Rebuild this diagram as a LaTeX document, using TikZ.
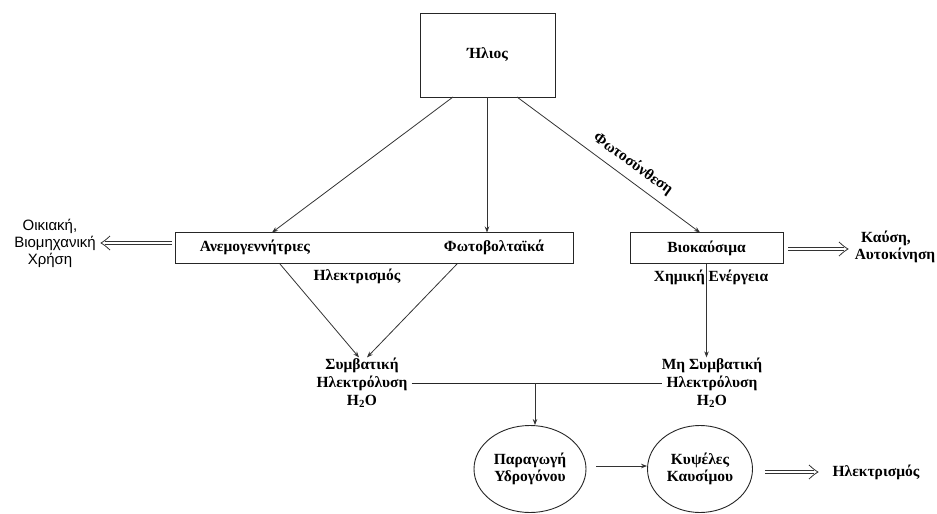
\documentclass[tikz,border=0pt]{standalone}
\usepackage{fontspec}
\setmainfont{Liberation Serif}
\newfontfamily\lsans{Liberation Sans}
\usetikzlibrary{shapes.geometric,arrows.meta,calc}
\begin{document}
\begin{tikzpicture}[x=1pt,y=-1pt,
  every node/.style={font=\bfseries\fontsize{15.5}{17}\selectfont, inner sep=0pt},
  boxnode/.style={draw=black!85, line width=0.9pt, rectangle},
  ell/.style={draw=black!85, ellipse, line width=0.9pt, align=center},
  arr/.style={draw=black!80, line width=0.8pt, -{Stealth[length=6pt,width=4.5pt]}},
  conn/.style={draw=black!85, line width=0.8pt},
  dshaft/.style={draw=black!80, line width=4.4pt, postaction={draw=white, line width=2.6pt}},
  sanslbl/.style={font=\lsans\fontsize{15}{17}\selectfont},
  dhead/.pic={\draw[black!80, line width=0.8pt] (-9,-7) .. controls (-4,-2.5) .. (0,0) .. controls (-4,2.5) .. (-9,7);},
]
\useasboundingbox (0,0) rectangle (937,514);
% boxes
\node[boxnode, minimum width=135pt, minimum height=84pt] (helios) at (487.5,55) {Ήλιος};
\node[boxnode, minimum width=398pt, minimum height=31pt] (bigbox) at (374,248) {};
\node (anemo) at (255,247) {Ανεμογεννήτριες};
\node (foto) at (494,247) {Φωτοβολταϊκά};
\node[boxnode, minimum width=153pt, minimum height=31pt] (bio) at (706.5,248) {Βιοκαύσιμα};
% labels
\node (ilek) at (357,276) {Ηλεκτρισμός};
\node (chem) at (711,277) {Χημική Ενέργεια};
\node (s1) at (362,365) {Συμβατική};
\node (s2) at (362,383) {Ηλεκτρόλυση};
\node (s3) at (362,401) {H\textsubscript{2}O};
\node (m1) at (712,365) {Μη Συμβατική};
\node (m2) at (712,383) {Ηλεκτρόλυση};
\node (m3) at (712,401) {H\textsubscript{2}O};
\node[sanslbl] (o1) at (50,226) {Οικιακή,};
\node[sanslbl] (o2) at (55,243) {Βιομηχανική};
\node[sanslbl] (o3) at (50,260) {Χρήση};
\node (k1) at (886,238) {Καύση,};
\node (k2) at (895,255) {Αυτοκίνηση};
% ellipses
\node[ell, minimum width=112pt, minimum height=87pt] (par) at (530,469) {Παραγωγή\\Υδρογόνου};
\node[ell, minimum width=105pt, minimum height=87pt] (kyp) at (700,469) {Κυψέλες\\Καυσίμου};
\node (ilek2) at (876,472) {Ηλεκτρισμός};
% helper coordinates
\coordinate (hl) at (453,97);
\coordinate (hm) at (487,97);
\coordinate (hr) at (517,97);
\coordinate (bl) at (280,264);
\coordinate (br) at (457,264);
\coordinate (j) at (535,383);
\coordinate (lt) at (172,243);
\coordinate (lh) at (101,243);
\coordinate (rt) at (788,249);
\coordinate (rh) at (848,249);
\coordinate (kt) at (765,472);
\coordinate (kh) at (818,472);
% connectors
\draw[arr] (hl) -- (272,232.5);
\draw[arr] (hm) -- (487,232.5);
\draw[arr] (hr) -- (700,232.5);
\node[rotate=-36] (photo) at (633,164) {Φωτοσύνθεση};
\draw[arr] (bl) -- ([xshift=-3pt]s1.north);
\draw[arr] (br) -- ([xshift=5pt]s1.north);
\draw[arr] (bio.south) -- (bio.south |- m1.north);
\draw[conn] ([xshift=4pt]s2.east) -- ([xshift=-4pt]m2.west);
\draw[arr] (j) -- (j |- par.north);
\draw[arr] ([xshift=10pt,yshift=3pt]par.east) -- ([yshift=3pt]kyp.west);
% double arrows
\draw[dshaft] (lt) -- ([xshift=4pt]lh);
\pic[rotate=180] at (lh) {dhead};
\draw[dshaft] (rt) -- ([xshift=-4pt]rh);
\pic at (rh) {dhead};
\draw[dshaft] (kt) -- ([xshift=-4pt]kh);
\pic at (kh) {dhead};
\end{tikzpicture}
\end{document}
